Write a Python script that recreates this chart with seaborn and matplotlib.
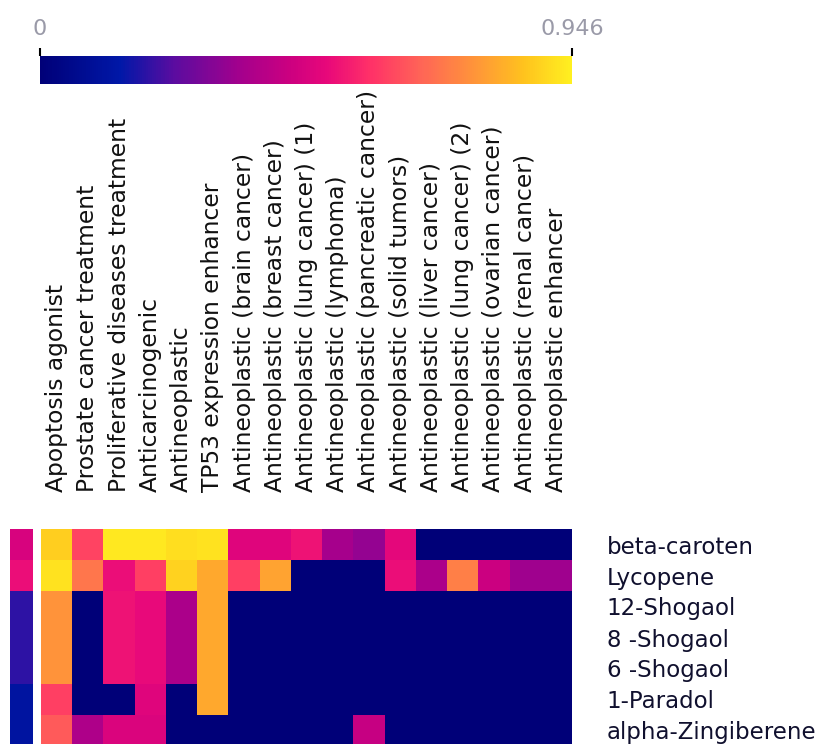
''' Heatmap of predicted anticancer activities for ginger / carotenoid compounds '''
#%% Import packages
import matplotlib
matplotlib.use('Agg')
import matplotlib.pyplot as plt
from matplotlib.colors import LinearSegmentedColormap
import pandas as pd
import seaborn as sns


#%% Data
compounds = ['beta-caroten', 'Lycopene', '12-Shogaol', '8 -Shogaol',
             '6 -Shogaol', '1-Paradol', 'alpha-Zingiberene']
activities = [
    'Apoptosis agonist',
    'Prostate cancer treatment',
    'Proliferative diseases treatment',
    'Anticarcinogenic',
    'Antineoplastic',
    'TP53 expression enhancer',
    'Antineoplastic (brain cancer)',
    'Antineoplastic (breast cancer)',
    'Antineoplastic (lung cancer) (1)',
    'Antineoplastic (lymphoma)',
    'Antineoplastic (pancreatic cancer)',
    'Antineoplastic (solid tumors)',
    'Antineoplastic (liver cancer)',
    'Antineoplastic (lung cancer) (2)',
    'Antineoplastic (ovarian cancer)',
    'Antineoplastic (renal cancer)',
    'Antineoplastic enhancer',
]
side_score = [0.47, 0.52, 0.19, 0.19, 0.19, 0.12, 0.12]

beta_caroten = [0.88, 0.62, 0.93, 0.93, 0.91, 0.92, 0.49, 0.49, 0.53, 0.36, 0.33, 0.50, 0, 0, 0, 0, 0]
lycopene = [0.92, 0.71, 0.52, 0.61, 0.89, 0.81, 0.61, 0.80, 0, 0, 0, 0.52, 0.37, 0.73, 0.44, 0.35, 0.35]
shogaol_12 = [0.77, 0, 0.53, 0.51, 0.37, 0.81, 0, 0, 0, 0, 0, 0, 0, 0, 0, 0, 0]
shogaol_8 = [0.77, 0, 0.53, 0.51, 0.37, 0.81, 0, 0, 0, 0, 0, 0, 0, 0, 0, 0, 0]
shogaol_6 = [0.77, 0, 0.53, 0.51, 0.37, 0.81, 0, 0, 0, 0, 0, 0, 0, 0, 0, 0, 0]
paradol_1 = [0.61, 0, 0, 0.49, 0, 0.81, 0, 0, 0, 0, 0, 0, 0, 0, 0, 0, 0]
zingiberene = [0.66, 0.38, 0.48, 0.48, 0, 0, 0, 0, 0, 0, 0.43, 0, 0, 0, 0, 0, 0]

VMAX = 0.946

#%% Build dataframes
main_df = pd.DataFrame(
    [beta_caroten, lycopene, shogaol_12, shogaol_8, shogaol_6, paradol_1, zingiberene],
    index=compounds, columns=activities)
side_df = pd.DataFrame({'score': side_score}, index=compounds)

cmap = LinearSegmentedColormap.from_list('navy_plasma', [
    (0.00, '#000078'), (0.15, '#0018A8'), (0.25, '#5A0CA0'),
    (0.38, '#A6008C'), (0.47, '#CC0080'), (0.54, '#E8087A'),
    (0.62, '#FF3068'), (0.72, '#FF6656'), (0.83, '#FF9A36'),
    (0.91, '#FFC21E'), (1.00, '#FFF020')])

#%% Plot
sns.set_style('white')
plt.rcParams['font.family'] = ['DejaVu Sans']

W, H = 819, 744
fig = plt.figure(figsize=(W / 100, H / 100), dpi=100)

cax = fig.add_axes([40 / W, 1 - 84 / H, 532 / W, 28 / H])
ax = fig.add_axes([41 / W, 1 - 746 / H, 531 / W, 217 / H])
sax = fig.add_axes([10 / W, 1 - 746 / H, 23 / W, 217 / H])

sns.heatmap(main_df, ax=ax, cmap=cmap, vmin=0, vmax=VMAX, cbar_ax=cax,
            cbar_kws={'orientation': 'horizontal', 'ticks': [0, VMAX]},
            xticklabels=activities, yticklabels=compounds)
sns.heatmap(side_df, ax=sax, cmap=cmap, vmin=0, vmax=VMAX, cbar=False,
            xticklabels=False, yticklabels=False)

# column labels on top, rows on right
ax.xaxis.tick_top()
ax.tick_params(axis='x', length=0, pad=27, labelrotation=90, labelsize=16.8,
               labelcolor='#111111')
for t in ax.get_xticklabels():
    t.set_verticalalignment('bottom')
ax.yaxis.tick_right()
ax.tick_params(axis='y', length=0, pad=25, labelrotation=0, labelsize=16.5,
               labelcolor='#10102e')
for t in ax.get_yticklabels():
    t.set_horizontalalignment('left')
ax.set_xlabel('')
ax.set_ylabel('')
sax.set_xlabel('')
sax.set_ylabel('')

# colour bar
cbar = ax.collections[0].colorbar
cbar.outline.set_visible(False)
cax.xaxis.set_ticks_position('top')
cax.set_xticklabels(['0', '0.946'])
cax.tick_params(axis='x', length=6, width=1.5, color='black', pad=6,
                labelsize=16, labelcolor='#9a9aa8')

fig.savefig('out.png', dpi=100)
